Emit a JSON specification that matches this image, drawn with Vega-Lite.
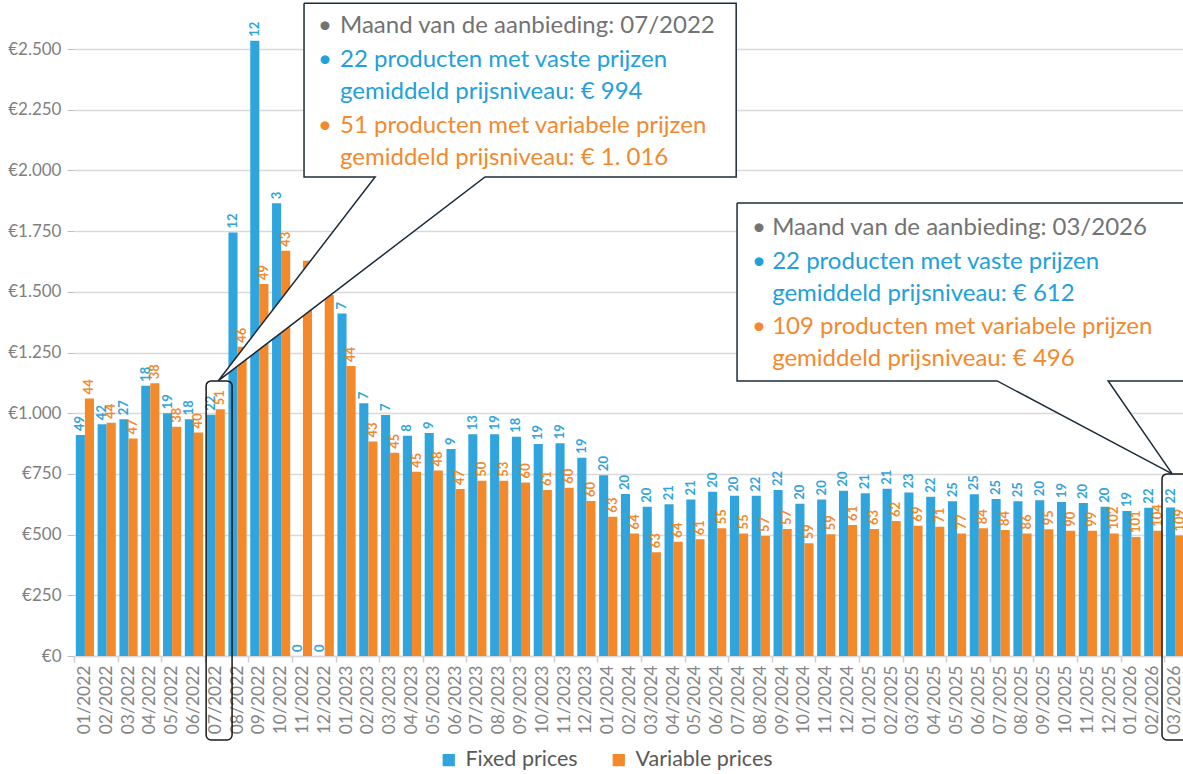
{
  "$schema": "https://vega.github.io/schema/vega-lite/v6.json",
  "width": 1112,
  "height": 656,
  "autosize": {"type": "none"},
  "padding": {"left": 74, "top": 0, "right": 0, "bottom": 118},
  "config": {
    "font": "Lato",
    "view": {"stroke": null},
    "axis": {"labelFont": "Lato", "titleFont": "Lato"},
    "legend": {"labelFont": "Lato", "labelFontSize": 21.5, "labelColor": "#595959"}
  },
  "datasets": {
    "bars": [
      {"month": "01/2022", "type": "Fixed prices", "value": 910, "count": 49},
      {"month": "01/2022", "type": "Variable prices", "value": 1061, "count": 44},
      {"month": "02/2022", "type": "Fixed prices", "value": 955, "count": 42},
      {"month": "02/2022", "type": "Variable prices", "value": 961, "count": 44},
      {"month": "03/2022", "type": "Fixed prices", "value": 975, "count": 27},
      {"month": "03/2022", "type": "Variable prices", "value": 896, "count": 47},
      {"month": "04/2022", "type": "Fixed prices", "value": 1113, "count": 18},
      {"month": "04/2022", "type": "Variable prices", "value": 1123, "count": 38},
      {"month": "05/2022", "type": "Fixed prices", "value": 1000, "count": 19},
      {"month": "05/2022", "type": "Variable prices", "value": 944, "count": 38},
      {"month": "06/2022", "type": "Fixed prices", "value": 975, "count": 18},
      {"month": "06/2022", "type": "Variable prices", "value": 921, "count": 40},
      {"month": "07/2022", "type": "Fixed prices", "value": 994, "count": 22},
      {"month": "07/2022", "type": "Variable prices", "value": 1016, "count": 51},
      {"month": "08/2022", "type": "Fixed prices", "value": 1744, "count": 12},
      {"month": "08/2022", "type": "Variable prices", "value": 1274, "count": 46},
      {"month": "09/2022", "type": "Fixed prices", "value": 2534, "count": 12},
      {"month": "09/2022", "type": "Variable prices", "value": 1532, "count": 49},
      {"month": "10/2022", "type": "Fixed prices", "value": 1865, "count": 3},
      {"month": "10/2022", "type": "Variable prices", "value": 1669, "count": 43},
      {"month": "11/2022", "type": "Fixed prices", "value": 0, "count": 0},
      {"month": "11/2022", "type": "Variable prices", "value": 1628, "count": null},
      {"month": "12/2022", "type": "Fixed prices", "value": 0, "count": 0},
      {"month": "12/2022", "type": "Variable prices", "value": 1487, "count": null},
      {"month": "01/2023", "type": "Fixed prices", "value": 1411, "count": 7},
      {"month": "01/2023", "type": "Variable prices", "value": 1194, "count": 44},
      {"month": "02/2023", "type": "Fixed prices", "value": 1041, "count": 7},
      {"month": "02/2023", "type": "Variable prices", "value": 883, "count": 43},
      {"month": "03/2023", "type": "Fixed prices", "value": 993, "count": 7},
      {"month": "03/2023", "type": "Variable prices", "value": 837, "count": 45},
      {"month": "04/2023", "type": "Fixed prices", "value": 907, "count": 8},
      {"month": "04/2023", "type": "Variable prices", "value": 759, "count": 45},
      {"month": "05/2023", "type": "Fixed prices", "value": 919, "count": 9},
      {"month": "05/2023", "type": "Variable prices", "value": 764, "count": 48},
      {"month": "06/2023", "type": "Fixed prices", "value": 853, "count": 9},
      {"month": "06/2023", "type": "Variable prices", "value": 688, "count": 47},
      {"month": "07/2023", "type": "Fixed prices", "value": 913, "count": 13},
      {"month": "07/2023", "type": "Variable prices", "value": 722, "count": 50},
      {"month": "08/2023", "type": "Fixed prices", "value": 913, "count": 19},
      {"month": "08/2023", "type": "Variable prices", "value": 722, "count": 53},
      {"month": "09/2023", "type": "Fixed prices", "value": 903, "count": 18},
      {"month": "09/2023", "type": "Variable prices", "value": 715, "count": 60},
      {"month": "10/2023", "type": "Fixed prices", "value": 873, "count": 19},
      {"month": "10/2023", "type": "Variable prices", "value": 684, "count": 61},
      {"month": "11/2023", "type": "Fixed prices", "value": 876, "count": 19},
      {"month": "11/2023", "type": "Variable prices", "value": 693, "count": 60},
      {"month": "12/2023", "type": "Fixed prices", "value": 817, "count": 19},
      {"month": "12/2023", "type": "Variable prices", "value": 638, "count": 60},
      {"month": "01/2024", "type": "Fixed prices", "value": 745, "count": 20},
      {"month": "01/2024", "type": "Variable prices", "value": 574, "count": 63},
      {"month": "02/2024", "type": "Fixed prices", "value": 667, "count": 20},
      {"month": "02/2024", "type": "Variable prices", "value": 505, "count": 64},
      {"month": "03/2024", "type": "Fixed prices", "value": 615, "count": 20},
      {"month": "03/2024", "type": "Variable prices", "value": 427, "count": 63},
      {"month": "04/2024", "type": "Fixed prices", "value": 625, "count": 21},
      {"month": "04/2024", "type": "Variable prices", "value": 471, "count": 64},
      {"month": "05/2024", "type": "Fixed prices", "value": 645, "count": 21},
      {"month": "05/2024", "type": "Variable prices", "value": 481, "count": 61},
      {"month": "06/2024", "type": "Fixed prices", "value": 677, "count": 20},
      {"month": "06/2024", "type": "Variable prices", "value": 526, "count": 55},
      {"month": "07/2024", "type": "Fixed prices", "value": 660, "count": 20},
      {"month": "07/2024", "type": "Variable prices", "value": 505, "count": 55},
      {"month": "08/2024", "type": "Fixed prices", "value": 660, "count": 22},
      {"month": "08/2024", "type": "Variable prices", "value": 494, "count": 57},
      {"month": "09/2024", "type": "Fixed prices", "value": 684, "count": 22},
      {"month": "09/2024", "type": "Variable prices", "value": 523, "count": 57},
      {"month": "10/2024", "type": "Fixed prices", "value": 627, "count": 20},
      {"month": "10/2024", "type": "Variable prices", "value": 464, "count": 59},
      {"month": "11/2024", "type": "Fixed prices", "value": 645, "count": 20},
      {"month": "11/2024", "type": "Variable prices", "value": 501, "count": 59},
      {"month": "12/2024", "type": "Fixed prices", "value": 681, "count": 20},
      {"month": "12/2024", "type": "Variable prices", "value": 540, "count": 61},
      {"month": "01/2025", "type": "Fixed prices", "value": 670, "count": 21},
      {"month": "01/2025", "type": "Variable prices", "value": 523, "count": 63},
      {"month": "02/2025", "type": "Fixed prices", "value": 689, "count": 21},
      {"month": "02/2025", "type": "Variable prices", "value": 556, "count": 62},
      {"month": "03/2025", "type": "Fixed prices", "value": 673, "count": 23},
      {"month": "03/2025", "type": "Variable prices", "value": 537, "count": 69},
      {"month": "04/2025", "type": "Fixed prices", "value": 656, "count": 22},
      {"month": "04/2025", "type": "Variable prices", "value": 532, "count": 71},
      {"month": "05/2025", "type": "Fixed prices", "value": 637, "count": 25},
      {"month": "05/2025", "type": "Variable prices", "value": 505, "count": 77},
      {"month": "06/2025", "type": "Fixed prices", "value": 666, "count": 25},
      {"month": "06/2025", "type": "Variable prices", "value": 526, "count": 84},
      {"month": "07/2025", "type": "Fixed prices", "value": 647, "count": 25},
      {"month": "07/2025", "type": "Variable prices", "value": 519, "count": 84},
      {"month": "08/2025", "type": "Fixed prices", "value": 637, "count": 25},
      {"month": "08/2025", "type": "Variable prices", "value": 505, "count": 86},
      {"month": "09/2025", "type": "Fixed prices", "value": 642, "count": 20},
      {"month": "09/2025", "type": "Variable prices", "value": 522, "count": 95},
      {"month": "10/2025", "type": "Fixed prices", "value": 634, "count": 19},
      {"month": "10/2025", "type": "Variable prices", "value": 516, "count": 90},
      {"month": "11/2025", "type": "Fixed prices", "value": 630, "count": 20},
      {"month": "11/2025", "type": "Variable prices", "value": 516, "count": 99},
      {"month": "12/2025", "type": "Fixed prices", "value": 615, "count": 20},
      {"month": "12/2025", "type": "Variable prices", "value": 505, "count": 102},
      {"month": "01/2026", "type": "Fixed prices", "value": 597, "count": 19},
      {"month": "01/2026", "type": "Variable prices", "value": 490, "count": 101},
      {"month": "02/2026", "type": "Fixed prices", "value": 611, "count": 22},
      {"month": "02/2026", "type": "Variable prices", "value": 516, "count": 104},
      {"month": "03/2026", "type": "Fixed prices", "value": 612, "count": 22},
      {"month": "03/2026", "type": "Variable prices", "value": 496, "count": 109}
    ],
    "boxes": [
      {"g": 1, "xi": 10.55, "xi2": 30.37, "yv": 2689, "yv2": 1973},
      {"g": 2, "xi": 30.41, "xi2": 51.6, "yv": 1866, "yv2": 1133}
    ],
    "tri": [
      {"g": 1, "xi": 6.61, "yv": 1133, "yv2": 1133},
      {"g": 1, "xi": 13.81, "yv": 1973, "yv2": 1627},
      {"g": 1, "xi": 18.85, "yv": 1973, "yv2": 1973},
      {"g": 2, "xi": 42.34, "yv": 1133, "yv2": 1133},
      {"g": 2, "xi": 47.43, "yv": 1133, "yv2": 890},
      {"g": 2, "xi": 50.37, "yv": 750, "yv2": 750}
    ],
    "outline": [
      {"g": 1, "o": 0, "xi": 10.55, "yv": 2689},
      {"g": 1, "o": 1, "xi": 30.37, "yv": 2689},
      {"g": 1, "o": 2, "xi": 30.37, "yv": 1973},
      {"g": 1, "o": 3, "xi": 18.85, "yv": 1973},
      {"g": 1, "o": 4, "xi": 6.61, "yv": 1133},
      {"g": 1, "o": 5, "xi": 13.81, "yv": 1973},
      {"g": 1, "o": 6, "xi": 10.55, "yv": 1973},
      {"g": 1, "o": 7, "xi": 10.55, "yv": 2689},
      {"g": 2, "o": 0, "xi": 30.41, "yv": 1866},
      {"g": 2, "o": 1, "xi": 51.6, "yv": 1866},
      {"g": 2, "o": 2, "xi": 51.6, "yv": 1133},
      {"g": 2, "o": 3, "xi": 47.43, "yv": 1133},
      {"g": 2, "o": 4, "xi": 50.37, "yv": 750},
      {"g": 2, "o": 5, "xi": 42.34, "yv": 1133},
      {"g": 2, "o": 6, "xi": 30.41, "yv": 1133},
      {"g": 2, "o": 7, "xi": 30.41, "yv": 1866}
    ],
    "rrects": [
      {"xi": 6.06, "xi2": 7.25, "yv": 1133, "yv2": -346},
      {"xi": 49.9, "xi2": 51.6, "yv": 750, "yv2": -346}
    ],
    "texts": [
      {"kind": "info", "xi": 11.19, "yv": 2595, "t": "•"},
      {"kind": "info", "xi": 12.2, "yv": 2595, "t": "Maand van de aanbieding: 07/2022"},
      {"kind": "fixed", "xi": 11.19, "yv": 2455, "t": "•"},
      {"kind": "fixed", "xi": 12.2, "yv": 2455, "t": "22 producten met vaste prijzen"},
      {"kind": "fixed", "xi": 12.2, "yv": 2323, "t": "gemiddeld prijsniveau: € 994"},
      {"kind": "variable", "xi": 11.19, "yv": 2183, "t": "•"},
      {"kind": "variable", "xi": 12.2, "yv": 2183, "t": "51 producten met variabele prijzen"},
      {"kind": "variable", "xi": 12.2, "yv": 2051, "t": "gemiddeld prijsniveau: € 1. 016"},
      {"kind": "info", "xi": 31.1, "yv": 1763, "t": "•"},
      {"kind": "info", "xi": 32.02, "yv": 1763, "t": "Maand van de aanbieding: 03/2026"},
      {"kind": "fixed", "xi": 31.1, "yv": 1623, "t": "•"},
      {"kind": "fixed", "xi": 32.02, "yv": 1623, "t": "22 producten met vaste prijzen"},
      {"kind": "fixed", "xi": 32.02, "yv": 1491, "t": "gemiddeld prijsniveau: € 612"},
      {"kind": "variable", "xi": 31.1, "yv": 1355, "t": "•"},
      {"kind": "variable", "xi": 32.02, "yv": 1355, "t": "109 producten met variabele prijzen"},
      {"kind": "variable", "xi": 32.02, "yv": 1223, "t": "gemiddeld prijsniveau: € 496"}
    ]
  },
  "layer": [
    {
      "data": {"name": "bars"},
      "encoding": {
        "x": {
          "field": "month", "type": "nominal", "sort": null,
          "scale": {"paddingInner": 0, "paddingOuter": 0},
          "axis": {
            "title": null, "labelAngle": -90, "labelFontSize": 17.5, "labelColor": "#858585",
            "ticks": false, "labelPadding": 9, "domainColor": "#D9D9D9", "domainWidth": 1.5
          }
        },
        "xOffset": {"field": "type", "type": "nominal", "scale": {"paddingOuter": 0.2, "paddingInner": 0}},
        "y": {
          "field": "value", "type": "quantitative",
          "scale": {"domain": [0, 2702], "nice": false, "zero": true},
          "axis": {
            "title": null, "values": [0, 250, 500, 750, 1000, 1250, 1500, 1750, 2000, 2250, 2500],
            "labelExpr": "'€' + replace(format(datum.value, ','), ',', '.')",
            "labelFontSize": 17, "labelColor": "#7F7F7F", "labelPadding": 6,
            "tickSize": 7, "tickColor": "#BFBFBF", "domain": false,
            "grid": true, "gridColor": "#D9D9D9", "gridWidth": 1.5
          }
        },
        "color": {
          "field": "type", "type": "nominal",
          "scale": {"domain": ["Fixed prices", "Variable prices"], "range": ["#30A4DC", "#F4892B"]},
          "legend": {
            "title": null, "orient": "none", "legendX": 364, "legendY": 749,
            "direction": "horizontal", "symbolType": "square",
            "symbolSize": 150, "labelFontSize": 21.5, "labelColor": "#595959", "columnPadding": 30,
            "symbolStrokeWidth": 0, "labelOffset": 6
          }
        }
      },
      "layer": [
        {"mark": {"type": "bar"}},
        {
          "transform": [{"filter": "datum.count != null"}],
          "mark": {"type": "text", "angle": 270, "align": "left", "baseline": "middle", "dx": 4, "fontSize": 13, "fontWeight": "bold"},
          "encoding": {"text": {"field": "count", "type": "quantitative"}}
        }
      ]
    },
    {
      "layer": [
        {
          "data": {"name": "rrects"},
          "mark": {"type": "rect", "cornerRadius": 5, "fillOpacity": 0, "stroke": "#1A1A1A", "strokeWidth": 1.5},
          "encoding": {
            "x": {"field": "xi", "type": "quantitative", "scale": {"domain": [0, 51], "nice": false, "zero": false},
              "axis": {"orient": "bottom", "values": [0,1,2,3,4,5,6,7,8,9,10,11,12,13,14,15,16,17,18,19,20,21,22,23,24,25,26,27,28,29,30,31,32,33,34,35,36,37,38,39,40,41,42,43,44,45,46,47,48,49,50,51],
                "labels": false, "domain": false, "grid": false, "title": null, "tickSize": 6, "tickColor": "#D0D0D0", "tickWidth": 1.5}},
            "x2": {"field": "xi2"},
            "y": {"field": "yv", "type": "quantitative", "scale": {"domain": [0, 2702], "nice": false}, "axis": null},
            "y2": {"field": "yv2"}
          }
        },
        {
          "data": {"name": "boxes"},
          "mark": {"type": "rect", "fill": "white"},
          "encoding": {
            "x": {"field": "xi", "type": "quantitative"},
            "x2": {"field": "xi2"},
            "y": {"field": "yv", "type": "quantitative"},
            "y2": {"field": "yv2"}
          }
        },
        {
          "data": {"name": "tri"},
          "mark": {"type": "area", "fill": "white", "opacity": 1},
          "encoding": {
            "x": {"field": "xi", "type": "quantitative"},
            "y": {"field": "yv", "type": "quantitative", "stack": null},
            "y2": {"field": "yv2"},
            "detail": {"field": "g", "type": "nominal"}
          }
        },
        {
          "data": {"name": "outline"},
          "mark": {"type": "line", "color": "#1C2B3A", "strokeWidth": 1.5, "strokeJoin": "miter"},
          "encoding": {
            "x": {"field": "xi", "type": "quantitative"},
            "y": {"field": "yv", "type": "quantitative"},
            "detail": {"field": "g", "type": "nominal"},
            "order": {"field": "o", "type": "quantitative"}
          }
        },
        {
          "data": {"name": "texts"},
          "transform": [{"filter": "datum.kind == 'info'"}],
          "mark": {"type": "text", "align": "left", "baseline": "middle", "fontSize": 24, "color": "#737373"},
          "encoding": {
            "x": {"field": "xi", "type": "quantitative"},
            "y": {"field": "yv", "type": "quantitative"},
            "text": {"field": "t", "type": "nominal"}
          }
        },
        {
          "data": {"name": "texts"},
          "transform": [{"filter": "datum.kind == 'fixed'"}],
          "mark": {"type": "text", "align": "left", "baseline": "middle", "fontSize": 24, "color": "#22A0DB"},
          "encoding": {
            "x": {"field": "xi", "type": "quantitative"},
            "y": {"field": "yv", "type": "quantitative"},
            "text": {"field": "t", "type": "nominal"}
          }
        },
        {
          "data": {"name": "texts"},
          "transform": [{"filter": "datum.kind == 'variable'"}],
          "mark": {"type": "text", "align": "left", "baseline": "middle", "fontSize": 24, "color": "#F3892E"},
          "encoding": {
            "x": {"field": "xi", "type": "quantitative"},
            "y": {"field": "yv", "type": "quantitative"},
            "text": {"field": "t", "type": "nominal"}
          }
        }
      ]
    }
  ],
  "resolve": {"scale": {"x": "independent", "y": "independent"}}
}
